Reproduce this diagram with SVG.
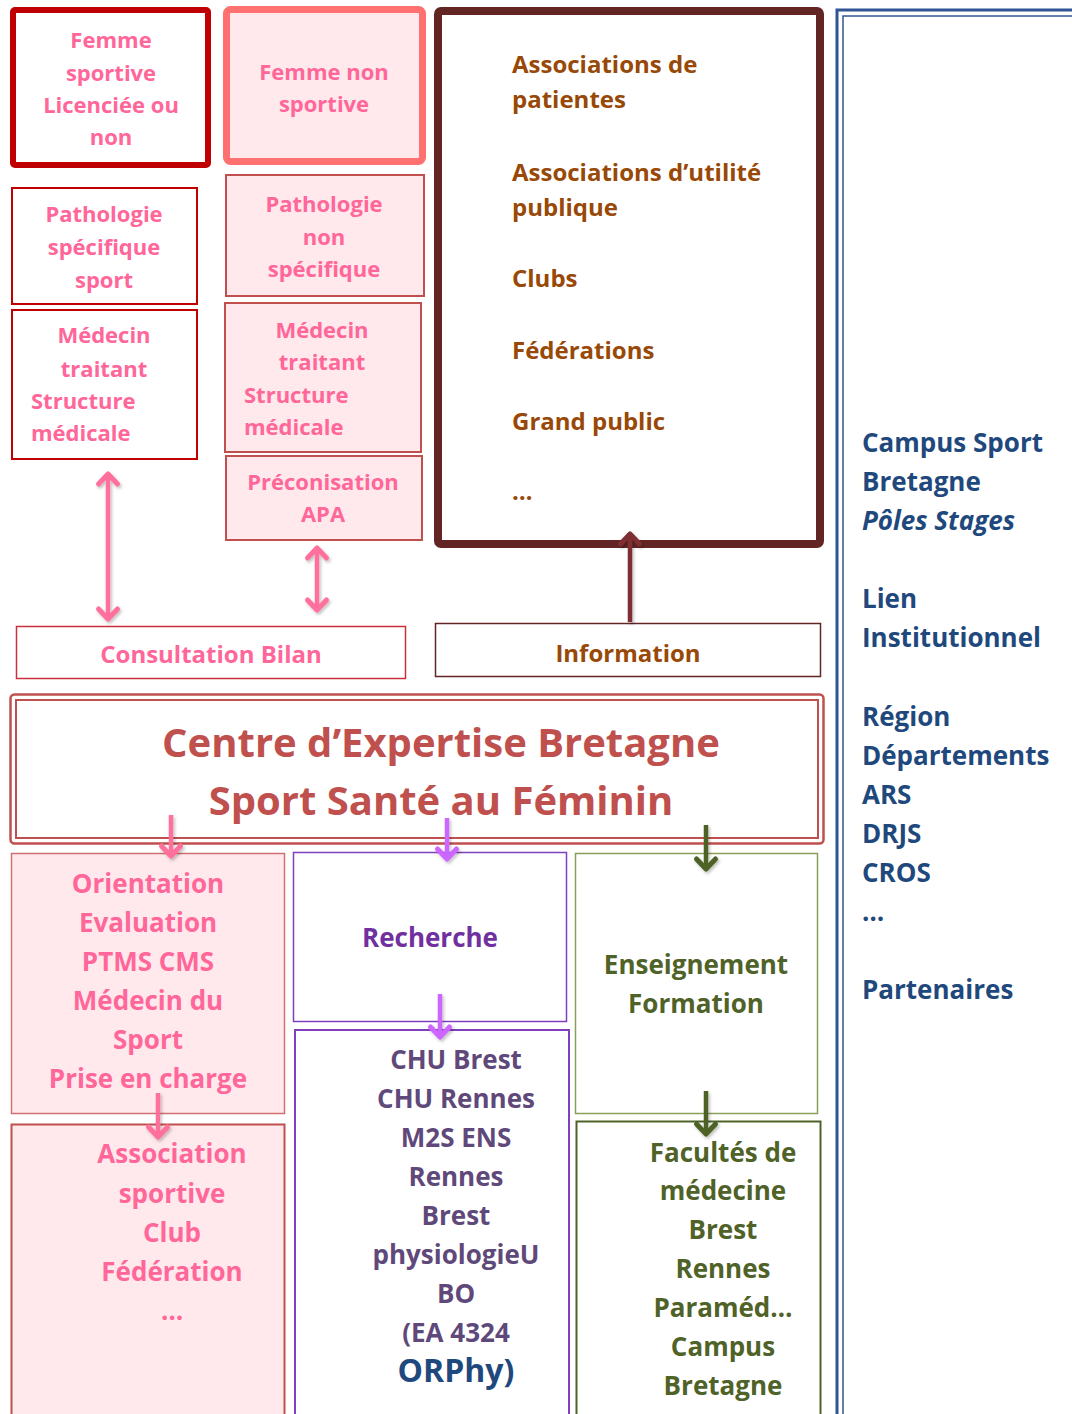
<svg xmlns="http://www.w3.org/2000/svg" width="1072" height="1414" viewBox="0 0 1072 1414">
<style>
text{font-family:"Open Sans",Lato,"Liberation Sans",sans-serif;font-weight:bold}
.c{text-anchor:middle}
.pk{fill:#FF6699}
.br{fill:#984807}
.bl{fill:#1F497D}
.gr{fill:#4F6228}
.pu{fill:#5F497A}
.s22{font-size:22px}
.s24{font-size:24px}
.s26{font-size:26px}
</style>
<defs>
<filter id="sh" x="-50%" y="-20%" width="200%" height="140%">
<feDropShadow dx="1.5" dy="2" stdDeviation="1.5" flood-color="#000" flood-opacity="0.25"/>
</filter>
<marker id="mPink" viewBox="-14 -14 28 28" markerWidth="28" markerHeight="28" refX="0" refY="0" orient="auto-start-reverse" markerUnits="userSpaceOnUse">
<path d="M-10,-9.5 L0,0 L-10,9.5" fill="none" stroke="#FF6F9C" stroke-width="5" stroke-linecap="round" stroke-linejoin="round"/>
</marker>
<marker id="mViolet" viewBox="-14 -14 28 28" markerWidth="28" markerHeight="28" refX="0" refY="0" orient="auto-start-reverse" markerUnits="userSpaceOnUse">
<path d="M-10,-9.5 L0,0 L-10,9.5" fill="none" stroke="#CC66FF" stroke-width="5" stroke-linecap="round" stroke-linejoin="round"/>
</marker>
<marker id="mGreen" viewBox="-14 -14 28 28" markerWidth="28" markerHeight="28" refX="0" refY="0" orient="auto-start-reverse" markerUnits="userSpaceOnUse">
<path d="M-10,-9.5 L0,0 L-10,9.5" fill="none" stroke="#4F6228" stroke-width="5" stroke-linecap="round" stroke-linejoin="round"/>
</marker>
<marker id="mBrown" viewBox="-14 -14 28 28" markerWidth="28" markerHeight="28" refX="0" refY="0" orient="auto-start-reverse" markerUnits="userSpaceOnUse">
<path d="M-10,-9.5 L0,0 L-10,9.5" fill="none" stroke="#7F2F30" stroke-width="5" stroke-linecap="round" stroke-linejoin="round"/>
</marker>
</defs>
<rect width="1072" height="1414" fill="#fff"/>

<g id="femme-sportive">
<rect x="13" y="10" width="195" height="155" rx="2" fill="#fff" stroke="#C00000" stroke-width="6"/>
<text class="c pk s22" x="111" y="48">Femme</text>
<text class="c pk s22" x="111" y="81">sportive</text>
<text class="c pk s22" x="111" y="113">Licenciée ou</text>
<text class="c pk s22" x="111" y="145">non</text>
</g>
<g id="femme-non-sportive">
<rect x="226.5" y="9.5" width="196" height="152" rx="4" fill="#FFE9EC" stroke="#FF7171" stroke-width="7"/>
<text class="c pk s22" x="324" y="80">Femme non</text>
<text class="c pk s22" x="324" y="112">sportive</text>
</g>
<g id="patho-specifique">
<rect x="12" y="188" width="185" height="116" fill="#fff" stroke="#C00000" stroke-width="2"/>
<text class="c pk s22" x="104" y="222">Pathologie</text>
<text class="c pk s22" x="104" y="255">spécifique</text>
<text class="c pk s22" x="104" y="288">sport</text>
</g>
<g id="patho-non-specifique">
<rect x="226" y="175" width="198" height="121" fill="#FFE9EC" stroke="#C0504D" stroke-width="2"/>
<text class="c pk s22" x="324" y="212">Pathologie</text>
<text class="c pk s22" x="324" y="245">non</text>
<text class="c pk s22" x="324" y="277">spécifique</text>
</g>
<g id="medecin-gauche">
<rect x="12" y="310" width="185" height="149" fill="#fff" stroke="#C00000" stroke-width="2"/>
<text class="c pk s22" x="104" y="343">Médecin</text>
<text class="c pk s22" x="104" y="377">traitant</text>
<text class="pk s22" x="31" y="409">Structure</text>
<text class="pk s22" x="31" y="441">médicale</text>
</g>
<g id="medecin-droite">
<rect x="225" y="303" width="196" height="149" fill="#FFE9EC" stroke="#C0504D" stroke-width="2"/>
<text class="c pk s22" x="322" y="338">Médecin</text>
<text class="c pk s22" x="322" y="370">traitant</text>
<text class="pk s22" x="244" y="403">Structure</text>
<text class="pk s22" x="244" y="435">médicale</text>
</g>
<g id="preconisation">
<rect x="226" y="456" width="196" height="84" fill="#FFE9EC" stroke="#C0504D" stroke-width="2"/>
<text class="c pk s22" x="323" y="490">Préconisation</text>
<text class="c pk s22" x="323" y="522">APA</text>
</g>
<g id="consultation">
<rect x="16.5" y="626.5" width="389" height="52" fill="#fff" stroke="#C8303A" stroke-width="1.5"/>
<text class="c pk s24" x="211" y="663">Consultation Bilan</text>
</g>
<g id="associations">
<rect x="438" y="11" width="382" height="533" rx="3" fill="#fff" stroke="#632523" stroke-width="8"/>
<text class="br s24" x="512" y="73">Associations de</text>
<text class="br s24" x="512" y="108">patientes</text>
<text class="br s24" x="512" y="181">Associations d’utilité</text>
<text class="br s24" x="512" y="216">publique</text>
<text class="br s24" x="512" y="287">Clubs</text>
<text class="br s24" x="512" y="359">Fédérations</text>
<text class="br s24" x="512" y="430">Grand public</text>
<text class="br s24" x="512" y="500">…</text>
</g>
<g id="information">
<rect x="435.5" y="623.5" width="385" height="53" fill="#fff" stroke="#632523" stroke-width="1.5"/>
<text class="c br s24" x="628" y="662">Information</text>
</g>
<g id="partenaires">
<rect x="837" y="10" width="300" height="1500" fill="none" stroke="#2F5597" stroke-width="3"/>
<rect x="843" y="16" width="300" height="1500" fill="none" stroke="#2F5597" stroke-width="1.5"/>
<text class="bl s26" x="862" y="452">Campus Sport</text>
<text class="bl s26" x="862" y="491">Bretagne</text>
<text class="bl s26" x="862" y="530" font-style="italic">Pôles Stages</text>
<text class="bl s26" x="862" y="608">Lien</text>
<text class="bl s26" x="862" y="647">Institutionnel</text>
<text class="bl s26" x="862" y="726">Région</text>
<text class="bl s26" x="862" y="765">Départements</text>
<text class="bl s26" x="862" y="804">ARS</text>
<text class="bl s26" x="862" y="843">DRJS</text>
<text class="bl s26" x="862" y="882">CROS</text>
<text class="bl s26" x="862" y="921">…</text>
<text class="bl s26" x="862" y="999">Partenaires</text>
</g>
<g id="centre-expertise">
<rect x="10.5" y="694.5" width="813" height="149" rx="4" fill="#fff" stroke="#C0504D" stroke-width="2.5"/>
<rect x="16" y="700" width="802" height="138" fill="none" stroke="#C0504D" stroke-width="2"/>
<text class="c" x="441" y="757" font-size="40" fill="#C0504D">Centre d’Expertise Bretagne</text>
<text class="c" x="441" y="815" font-size="40" fill="#C0504D">Sport Santé au Féminin</text>
</g>
<g id="orientation">
<rect x="11.5" y="853.5" width="273" height="260" fill="#FFE9EC" stroke="#D07070" stroke-width="1.5"/>
<text class="c pk s26" x="148" y="893">Orientation</text>
<text class="c pk s26" x="148" y="932">Evaluation</text>
<text class="c pk s26" x="148" y="971">PTMS CMS</text>
<text class="c pk s26" x="148" y="1010">Médecin du</text>
<text class="c pk s26" x="148" y="1049">Sport</text>
<text class="c pk s26" x="148" y="1088">Prise en charge</text>
</g>
<g id="association-sportive">
<rect x="11.5" y="1124.5" width="273" height="300" fill="#FFE9EC" stroke="#C0504D" stroke-width="2"/>
<text class="c pk s26" x="172" y="1163">Association</text>
<text class="c pk s26" x="172" y="1203">sportive</text>
<text class="c pk s26" x="172" y="1242">Club</text>
<text class="c pk s26" x="172" y="1281">Fédération</text>
<text class="c pk s26" x="172" y="1320">…</text>
</g>
<g id="recherche">
<rect x="293.5" y="852.5" width="273" height="169" fill="#fff" stroke="#7F3FBF" stroke-width="1.5"/>
<text class="c s26" x="430" y="947" fill="#7030A0">Recherche</text>
</g>
<g id="chu">
<rect x="295" y="1030" width="274" height="400" fill="#fff" stroke="#7F3FBF" stroke-width="2"/>
<text class="c pu s26" x="456" y="1069">CHU Brest</text>
<text class="c pu s26" x="456" y="1108">CHU Rennes</text>
<text class="c pu s26" x="456" y="1147">M2S ENS</text>
<text class="c pu s26" x="456" y="1186">Rennes</text>
<text class="c pu s26" x="456" y="1225">Brest</text>
<text class="c pu s26" x="456" y="1264">physiologieU</text>
<text class="c pu s26" x="456" y="1303">BO</text>
<text class="c pu s26" x="456" y="1342">(EA 4324</text>
<text class="c bl" x="456" y="1382" font-size="32">ORPhy)</text>
</g>
<g id="enseignement">
<rect x="575.5" y="853.5" width="242" height="260" fill="#fff" stroke="#8AA05A" stroke-width="1.5"/>
<text class="c gr s26" x="696" y="974">Enseignement</text>
<text class="c gr s26" x="696" y="1013">Formation</text>
</g>
<g id="facultes">
<rect x="576.5" y="1121.5" width="244" height="310" fill="#fff" stroke="#4F6228" stroke-width="2"/>
<text class="c gr s26" x="723" y="1162">Facultés de</text>
<text class="c gr s26" x="723" y="1200">médecine</text>
<text class="c gr s26" x="723" y="1239">Brest</text>
<text class="c gr s26" x="723" y="1278">Rennes</text>
<text class="c gr s26" x="723" y="1317">Paraméd…</text>
<text class="c gr s26" x="723" y="1356">Campus</text>
<text class="c gr s26" x="723" y="1395">Bretagne</text>
</g>

<g id="connectors" fill="none" stroke-width="4.5" filter="url(#sh)">
<line x1="108" y1="474" x2="108" y2="619" stroke="#FF6F9C" marker-start="url(#mPink)" marker-end="url(#mPink)"/>
<line x1="317" y1="548" x2="317" y2="610" stroke="#FF6F9C" marker-start="url(#mPink)" marker-end="url(#mPink)"/>
<line x1="630" y1="622" x2="630" y2="534" stroke="#7F2F30" marker-end="url(#mBrown)"/>
<line x1="171" y1="815" x2="171" y2="856" stroke="#FF6F9C" marker-end="url(#mPink)"/>
<line x1="447" y1="818" x2="447" y2="859" stroke="#CC66FF" marker-end="url(#mViolet)"/>
<line x1="706" y1="825" x2="706" y2="869" stroke="#4F6228" marker-end="url(#mGreen)"/>
<line x1="158" y1="1093" x2="158" y2="1137" stroke="#FF6F9C" marker-end="url(#mPink)"/>
<line x1="440" y1="994" x2="440" y2="1037" stroke="#CC66FF" marker-end="url(#mViolet)"/>
<line x1="706" y1="1091" x2="706" y2="1134" stroke="#4F6228" marker-end="url(#mGreen)"/>
</g>
</svg>
